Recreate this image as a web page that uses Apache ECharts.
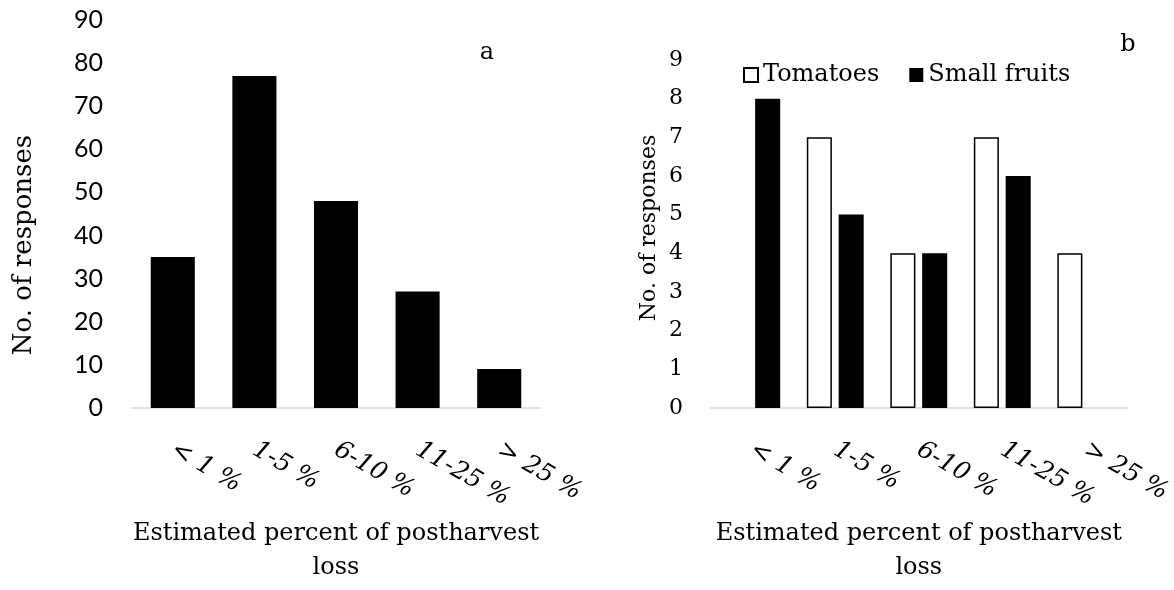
<!DOCTYPE html>
<html>
<head>
<meta charset="utf-8">
<script src="https://cdn.jsdelivr.net/npm/echarts@6/dist/echarts.min.js"></script>
<style>
html,body{margin:0;padding:0;background:#fff;}
#chart{width:1174px;height:590px;}
</style>
</head>
<body>
<div id="chart"></div>
<script>
// ---- data ----
var categories = ['< 1 %', '1-5 %', '6-10 %', '11-25 %', '> 25 %'];
var responsesA = [35, 77, 48, 27, 9];
var tomatoes = [0, 7, 4, 7, 4];
var smallFruits = [8, 5, 4, 6, 0];
var yTicksA = [0, 10, 20, 30, 40, 50, 60, 70, 80, 90];
var yTicksB = [0, 1, 2, 3, 4, 5, 6, 7, 8, 9];
var xTitle = 'Estimated percent of postharvest\nloss';
var yTitle = 'No. of responses';

var serif = 'DejaVu Serif';
var chart = echarts.init(document.getElementById('chart'));

function xAxisCfg(gridIndex) {
  return {
    type: 'category', gridIndex: gridIndex, data: categories,
    axisLine: {lineStyle: {color: '#d9d9d9', width: 1.5}},
    axisTick: {show: false},
    axisLabel: {rotate: -30, margin: 40, color: '#000', fontFamily: serif, fontStyle: 'italic', fontSize: 25, interval: 0},
    name: xTitle, nameLocation: 'middle', nameGap: 99,
    nameTextStyle: {color: '#000', fontFamily: serif, fontSize: 24, lineHeight: 34}
  };
}

var tomatoData = tomatoes.map(function (v) {
  return v === 0 ? {value: v, itemStyle: {borderWidth: 0}} : v;
});

chart.setOption({
  animation: false,
  backgroundColor: '#fff',
  grid: [
    {left: 132, width: 408, top: 20, height: 407},
    {left: 710, width: 424, top: 60, height: 367}
  ],
  xAxis: [xAxisCfg(0), xAxisCfg(1)],
  yAxis: [
    {type: 'value', gridIndex: 0, min: yTicksA[0], max: yTicksA[yTicksA.length - 1], interval: 10,
      axisLine: {show: false}, axisTick: {show: false}, splitLine: {show: false},
      axisLabel: {margin: 29, color: '#000', fontFamily: 'Lato', fontSize: 25}},
    {type: 'value', gridIndex: 1, min: yTicksB[0], max: yTicksB[yTicksB.length - 1], interval: 1,
      axisLine: {show: false}, axisTick: {show: false}, splitLine: {show: false},
      axisLabel: {margin: 27, color: '#000', fontFamily: serif, fontSize: 22}}
  ],
  legend: {
    data: ['Tomatoes', 'Small fruits'],
    left: 738, top: 58, icon: 'rect', itemWidth: 14, itemHeight: 14, itemGap: 30,
    textStyle: {color: '#000', fontFamily: serif, fontSize: 24, padding: [0, 0, 0, 0]}
  },
  series: [
    {name: 'Responses', type: 'bar', xAxisIndex: 0, yAxisIndex: 0, data: responsesA,
      barWidth: '54%', itemStyle: {color: '#000'}},
    {name: 'Tomatoes', type: 'bar', xAxisIndex: 1, yAxisIndex: 1, data: tomatoData,
      barWidth: '30%', barGap: '27%', itemStyle: {color: '#fff', borderColor: '#000', borderWidth: 1.5}},
    {name: 'Small fruits', type: 'bar', xAxisIndex: 1, yAxisIndex: 1, data: smallFruits,
      barWidth: '30%', barGap: '27%', itemStyle: {color: '#000'}}
  ],
  graphic: [
    {type: 'text', x: 24, y: 245, rotation: Math.PI / 2,
      style: {text: yTitle, fontFamily: serif, fontSize: 26, fill: '#000', align: 'center', verticalAlign: 'middle'}},
    {type: 'text', x: 649, y: 228, rotation: Math.PI / 2,
      style: {text: yTitle, fontFamily: serif, fontSize: 22, fill: '#000', align: 'center', verticalAlign: 'middle'}},
    {type: 'text', x: 487, y: 53,
      style: {text: 'a', fontFamily: serif, fontSize: 24, fill: '#000', align: 'center', verticalAlign: 'middle'}},
    {type: 'text', x: 1128, y: 45,
      style: {text: 'b', fontFamily: serif, fontSize: 24, fill: '#000', align: 'center', verticalAlign: 'middle'}}
  ]
});
</script>
</body>
</html>
